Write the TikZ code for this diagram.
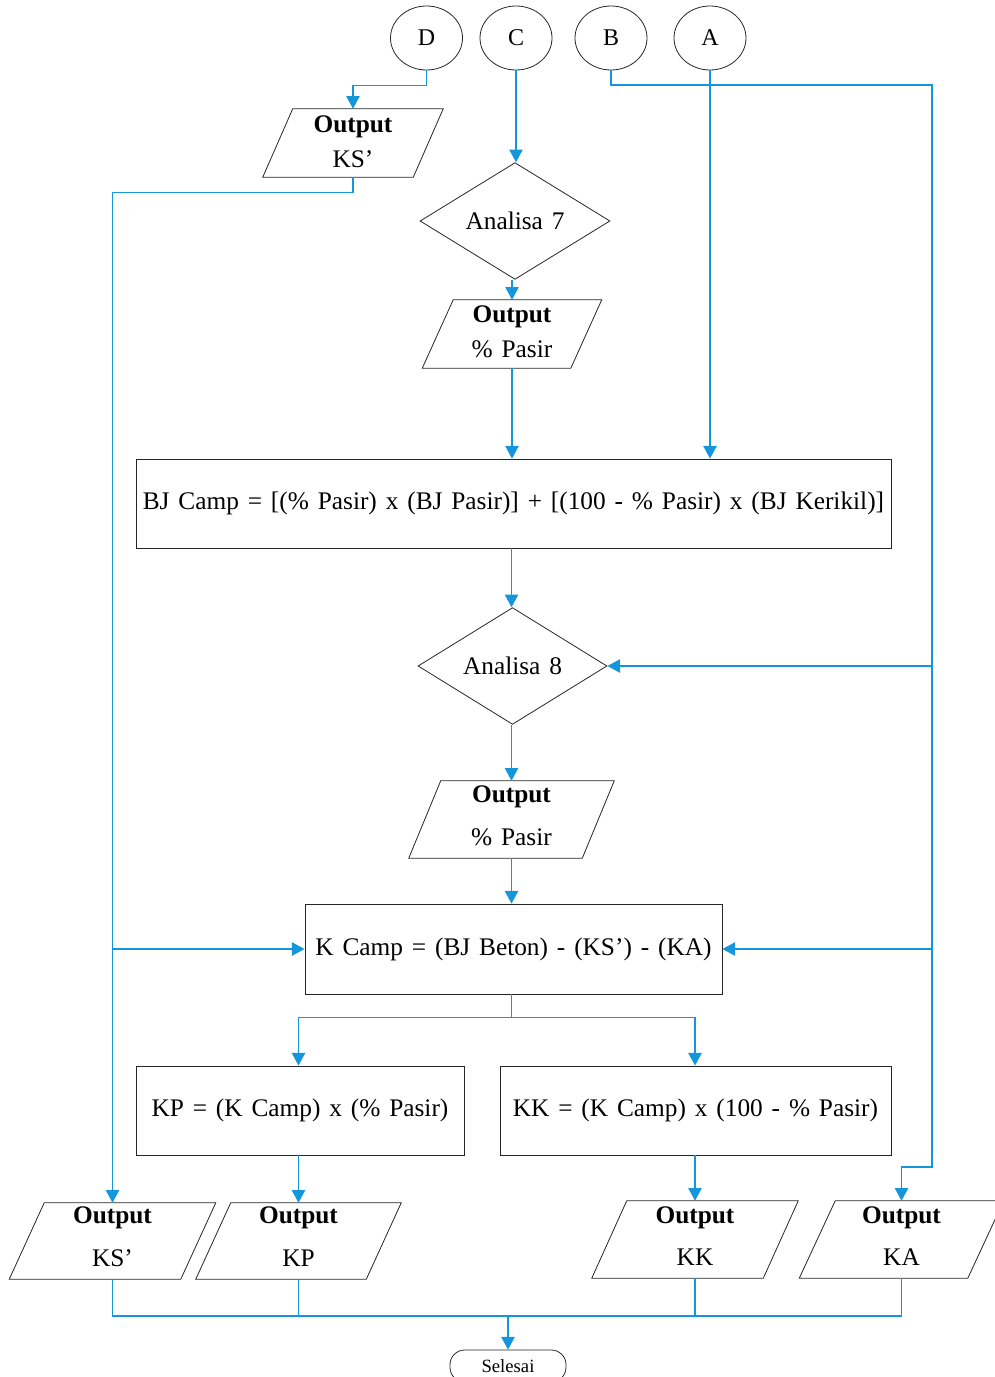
\documentclass[tikz,border=0pt]{standalone}
\usepackage{fontspec}
\setmainfont{Liberation Serif}[WordSpace=1.4]
\usetikzlibrary{arrows.meta,shapes.geometric,calc}
\definecolor{flow}{RGB}{20,150,220}
\tikzset{
  shapeline/.style={draw=black!85, line width=0.6pt},
  conn/.style={draw=flow, line width=1pt},
  arr/.style={conn, -{Triangle[length=9.5pt,width=10pt]}},
  txt/.style={inner sep=0pt, font=\fontsize{19}{22}\selectfont},
  iobase/.style={inner sep=0pt, draw=none, rectangle},
  procbox/.style={rectangle, shapeline, inner sep=0pt, font=\fontsize{19}{22}\selectfont},
  decbox/.style={diamond, shapeline, inner sep=0pt, font=\fontsize{19}{22}\selectfont},
  conbox/.style={ellipse, shapeline, inner sep=0pt, font=\fontsize{18}{20}\selectfont},
  termbox/.style={rectangle, rounded corners=11pt, shapeline, inner sep=0pt, font=\fontsize{14}{16}\selectfont},
}
% name, cx, cy, w, h, slant, value, dy title, dy value
\newcommand\ioshape[9]{%
  \node[iobase, minimum width=#4*0.75pt, minimum height=#5*0.75pt] (#1) at (#2,#3) {};
  \draw[shapeline] ($(#1.south west)+(-#6/2,0)$) -- ($(#1.north west)+(#6/2,0)$)
     -- ($(#1.north east)+(#6/2,0)$) -- ($(#1.south east)+(-#6/2,0)$) -- cycle;
  \node[txt] (#1-t) at ($(#1.center)+(0,#8)$) {\textbf{Output}};
  \node[txt] (#1-v) at ($(#1.center)+(0,#9)$) {#7};
}
\begin{document}
\begin{tikzpicture}[x=0.75pt,y=-0.75pt]
\useasboundingbox (0,0) rectangle (995,1377);

% connectors (circles)
\node[conbox, minimum width=72*0.75pt, minimum height=64*0.75pt] (D) at (426.5,38) {D};
\node[conbox, minimum width=72*0.75pt, minimum height=64*0.75pt] (C) at (516,38) {C};
\node[conbox, minimum width=72*0.75pt, minimum height=64*0.75pt] (B) at (611,38) {B};
\node[conbox, minimum width=72*0.75pt, minimum height=64*0.75pt] (A) at (710,38) {A};

% outputs
\ioshape{o1}{353}{143}{150}{68}{30}{KS’}{-16}{16}
\ioshape{op1}{512}{334}{148}{68}{31}{\% Pasir}{-17}{15}
\ioshape{op2}{511.5}{819.5}{173}{77}{32}{\% Pasir}{-23}{18}
\ioshape{oKS}{112.5}{1241}{171}{76}{35}{KS’}{-23}{17}
\ioshape{oKP}{298.5}{1241}{170}{76}{35}{KP}{-23}{17}
\ioshape{oKK}{695}{1239.5}{171}{77}{35}{KK}{-22}{18}
\ioshape{oKA}{901.5}{1239.5}{168}{77}{36}{KA}{-22}{18}

% decisions
\node[decbox, minimum width=190*0.75pt, minimum height=108*0.75pt] (d7) at (515,221) {Analisa 7};
\node[decbox, minimum width=189*0.75pt, minimum height=108*0.75pt] (d8) at (512.5,666) {Analisa 8};

% processes
\node[procbox, minimum width=755*0.75pt, minimum height=89*0.75pt] (bj) at (513.5,503.5)
  {BJ Camp = [(\% Pasir) x (BJ Pasir)] + [(100 - \% Pasir) x (BJ Kerikil)]};
\node[procbox, minimum width=417*0.75pt, minimum height=90*0.75pt] (kc) at (513.5,949)
  {K Camp = (BJ Beton) - (KS’) - (KA)};
\node[procbox, minimum width=328*0.75pt, minimum height=89*0.75pt] (kp) at (300,1110.5)
  {KP = (K Camp) x (\% Pasir)};
\node[procbox, minimum width=391*0.75pt, minimum height=89*0.75pt] (kk) at (695.5,1110.5)
  {KK = (K Camp) x (100 - \% Pasir)};

% terminal
\node[termbox, minimum width=116*0.75pt, minimum height=32*0.75pt] (sel) at (508,1366) {Selesai};

% helper coordinates
\coordinate (bR) at (932,85);
\coordinate (bD) at (932,1167);
\coordinate (bot) at (0,1316);

% D branch
\draw[arr] (D.south) -- ++(0,15) -| (o1.north);
\draw[arr] (o1.south) -- ++(0,15) -| (oKS.north);
\draw[arr] (oKS.north |- kc.west) -- (kc.west);

% C branch
\draw[arr] (C.south) -- (C.south |- d7.north);
\draw[arr] (op1.north |- d7.south) -- (op1.north);
\draw[arr] (op1.south) -- (op1.south |- bj.north);

% A branch
\draw[arr] (A.south) -- (A.south |- bj.north);

% B branch
\draw[arr] (B.south) |- (bR) -- (bD) -| (oKA.north);
\draw[arr] (bR |- d8.east) -- (d8.east);
\draw[arr] (bR |- kc.east) -- (kc.east);

% main flow
\draw[arr] (op2.north |- bj.south) -- (op2.north |- d8.north);
\draw[arr] (op2.north |- d8.south) -- (op2.north);
\draw[arr] (op2.south) -- (op2.south |- kc.north);
\draw[conn] (op2.south |- kc.south) -- ++(0,23) coordinate (split);
\draw[arr] (split) -| (oKP.north |- kp.north);
\draw[arr] (split) -| (oKK.north |- kk.north);
\draw[arr] (oKP.north |- kp.south) -- (oKP.north);
\draw[arr] (oKK.north |- kk.south) -- (oKK.north);

% to terminal
\draw[conn] (oKS.south) |- (bot -| oKA.south) -- (oKA.south);
\draw[conn] (oKP.south) -- (oKP.south |- bot);
\draw[conn] (oKK.south) -- (oKK.south |- bot);
\draw[arr] (sel.north |- bot) -- (sel.north);
\end{tikzpicture}
\end{document}
